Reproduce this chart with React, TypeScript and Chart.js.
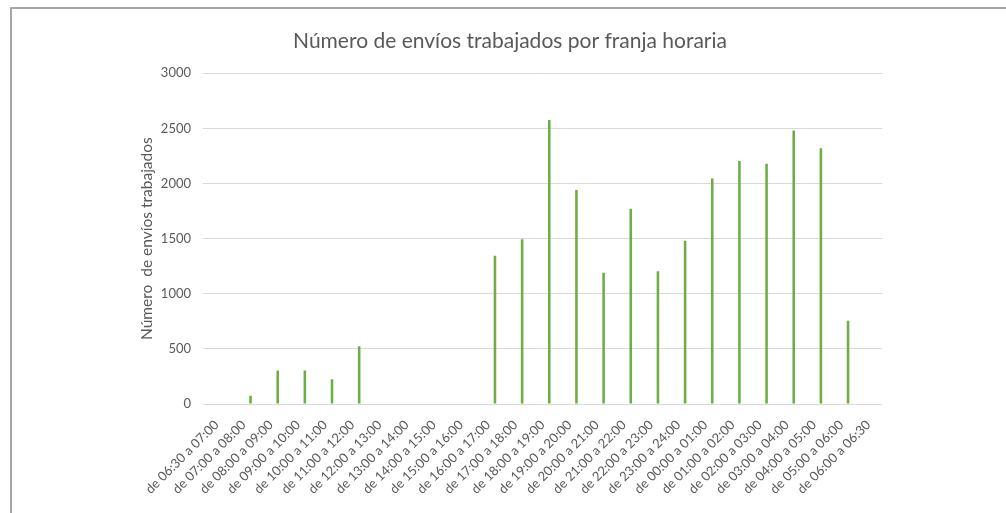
import React, { useEffect, useRef } from "react";
import { Chart, registerables } from "chart.js";

Chart.register(...registerables);

const chartTitle = "Número de envíos trabajados por franja horaria";
const yAxisTitle = "Número  de envíos trabajados";

const categories = [
  "de 06:30 a 07:00",
  "de 07:00 a 08:00",
  "de 08:00 a 09:00",
  "de 09:00 a 10:00",
  "de 10:00 a 11:00",
  "de 11:00 a 12:00",
  "de 12:00 a 13:00",
  "de 13:00 a 14:00",
  "de 14:00 a 15:00",
  "de 15:00 a 16:00",
  "de 16:00 a 17:00",
  "de 17:00 a 18:00",
  "de 18:00 a 19:00",
  "de 19:00 a 20:00",
  "de 20:00 a 21:00",
  "de 21:00 a 22:00",
  "de 22:00 a 23:00",
  "de 23:00 a 24:00",
  "de 00:00 a 01:00",
  "de 01:00 a 02:00",
  "de 02:00 a 03:00",
  "de 03:00 a 04:00",
  "de 04:00 a 05:00",
  "de 05:00 a 06:00",
  "de 06:00 a 06:30",
];

// Empty companion series (the source chart is clustered, the visible series sits in the second slot)
const emptySeries: (number | null)[] = categories.map(() => null);

const enviosTrabajados = [
  0, 75, 305, 305, 225, 525, 0, 0, 0, 0, 1345, 1495, 2575, 1940, 1190, 1770,
  1205, 1480, 2045, 2205, 2180, 2480, 2320, 755, 0,
];

const yTicks = [0, 500, 1000, 1500, 2000, 2500, 3000];

const FONT = "Lato, 'Open Sans', 'Liberation Sans', sans-serif";
const TEXT = "#595959";

export default function App() {
  const ref = useRef<HTMLCanvasElement | null>(null);

  useEffect(() => {
    if (!ref.current) return;
    const chart = new Chart(ref.current, {
      type: "bar",
      data: {
        labels: categories,
        datasets: [
          {
            label: "",
            data: emptySeries,
            backgroundColor: "rgba(0,0,0,0)",
          },
          {
            label: "Número de envíos trabajados",
            data: enviosTrabajados,
            backgroundColor: "#70AD47",
            borderWidth: 0,
          },
        ],
      },
      options: {
        responsive: false,
        animation: false,
        categoryPercentage: 1.0,
        barPercentage: 0.19,
        layout: {
          autoPadding: false,
          padding: { left: 138, right: 124, top: 29, bottom: 11 },
        },
        plugins: {
          legend: { display: false },
          tooltip: { enabled: false },
          title: {
            display: true,
            text: chartTitle,
            color: TEXT,
            font: { family: FONT, size: 21, weight: "normal" },
            padding: { top: 0, bottom: 19 },
          },
        },
        scales: {
          x: {
            grid: { display: false },
            border: { display: false },
            afterFit: (scale: any) => {
              scale.paddingLeft = 0;
              scale.paddingRight = 0;
            },
            ticks: {
              color: TEXT,
              font: { family: FONT, size: 13 },
              minRotation: 45,
              maxRotation: 45,
              autoSkip: false,
              padding: 5,
            },
          },
          y: {
            min: 0,
            max: 3000,
            afterBuildTicks: (axis: any) => {
              axis.ticks = yTicks.map((v) => ({ value: v }));
            },
            afterFit: (scale: any) => {
              scale.width = 65;
            },
            grid: { color: "#d9d9d9", lineWidth: 1, drawTicks: false },
            border: { display: false },
            ticks: {
              color: TEXT,
              font: { family: FONT, size: 13 },
              padding: 12,
              callback: (v: any) => String(v),
            },
            title: {
              display: true,
              text: yAxisTitle,
              color: TEXT,
              font: { family: FONT, size: 15.5, weight: "normal" },
              padding: { top: 0, bottom: 6 },
            },
          },
        },
      },
    });
    return () => chart.destroy();
  }, []);

  return (
    <div
      style={{
        position: "fixed",
        left: 0,
        top: 0,
        width: 1006,
        height: 513,
        background: "#ffffff",
        overflow: "hidden",
      }}
    >
      <canvas
        ref={ref}
        width={1006}
        height={513}
        style={{ position: "absolute", left: 0, top: 0, width: 1006, height: 513 }}
      />
      <div
        style={{
          position: "absolute",
          left: 10,
          top: 7,
          width: 996,
          height: 506,
          borderTop: "2px solid #a6a6a6",
          borderLeft: "2px solid #a6a6a6",
          boxSizing: "border-box",
          pointerEvents: "none",
        }}
      />
    </div>
  );
}
